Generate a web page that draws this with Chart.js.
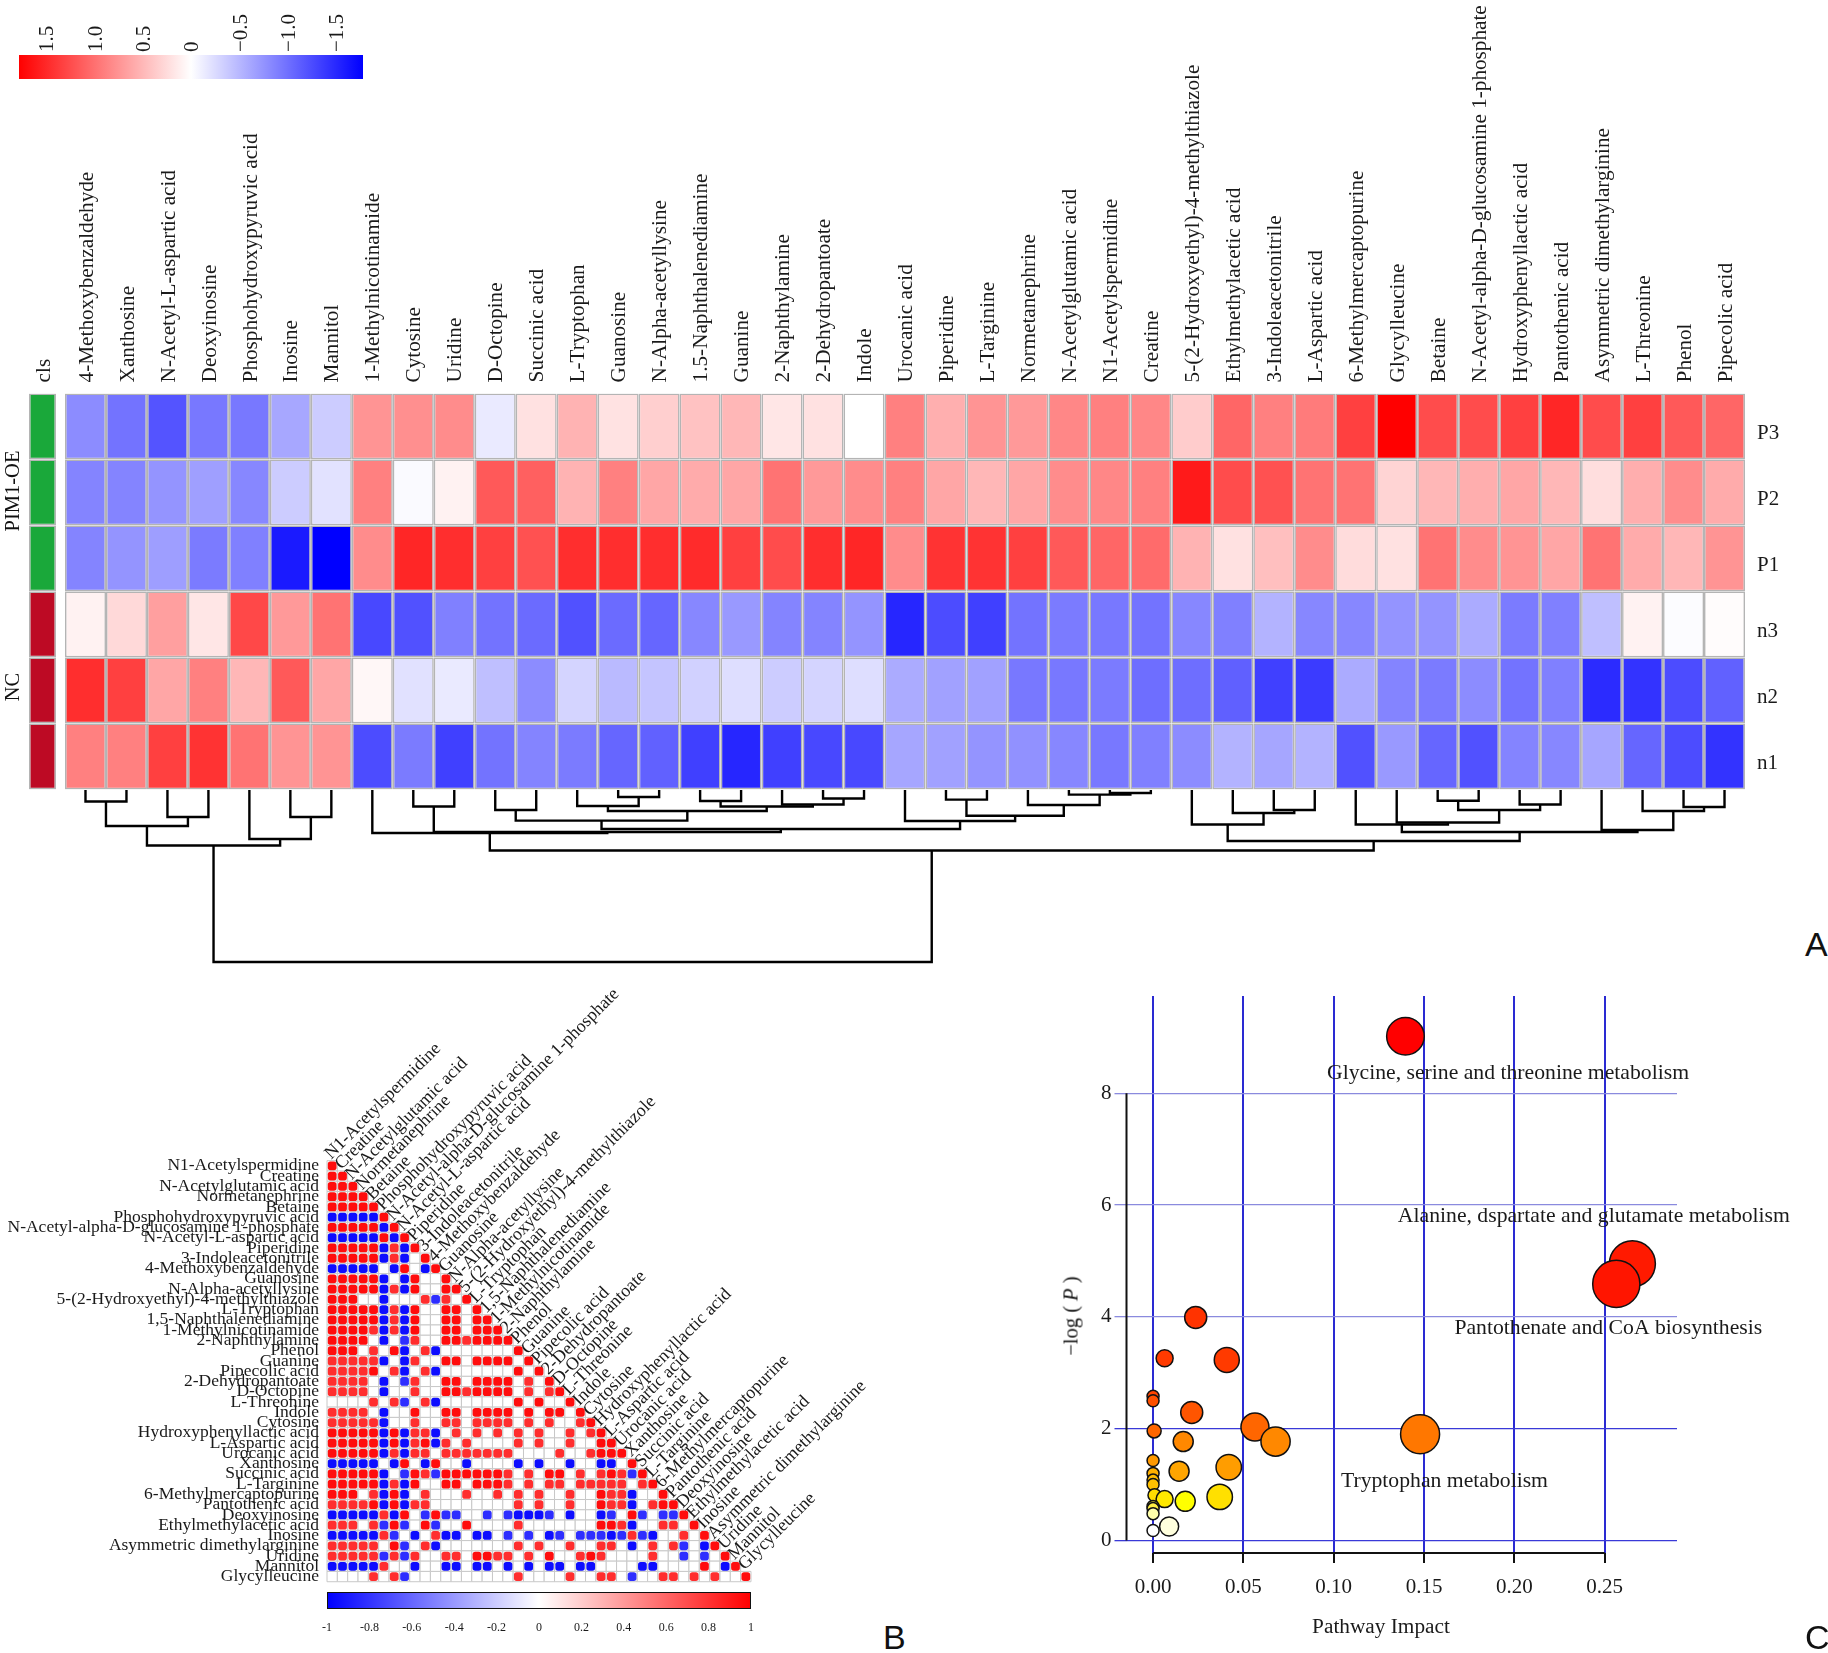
<!DOCTYPE html>
<html>
<head>
<meta charset="utf-8">
<script src="https://cdn.jsdelivr.net/npm/chart.js@4/dist/chart.umd.min.js"></script>
<style>
  html, body { margin: 0; padding: 0; background: #fff; }
  #page { position: relative; width: 1828px; height: 1653px; overflow: hidden; background: #fff; }
  #page canvas { position: absolute; }
  .panel { position: absolute; font: 34px "Liberation Sans", sans-serif; color: #111; line-height: 1; }
  .side { position: absolute; font: 20.5px "Liberation Serif", serif; color: #111; white-space: nowrap;
          transform: translate(-50%, -50%) rotate(-90deg); }
  .title { position: absolute; font: 21.3px "Liberation Serif", serif; color: #1a1a1a; white-space: nowrap;
           transform: translate(-50%, -50%); }
</style>
</head>
<body>
<div id="page">
  <canvas id="scale_a" style="left:0;top:0"></canvas>
  <canvas id="cls_a" style="left:20px;top:0"></canvas>
  <canvas id="heat_a" style="left:58px;top:0"></canvas>
  <canvas id="tree_a" style="left:60px;top:785px"></canvas>
  <canvas id="corr_b" style="left:0;top:990px"></canvas>
  <canvas id="scale_b" style="left:310px;top:1580px"></canvas>
  <canvas id="bubble_c" style="left:1040px;top:966px"></canvas>
  <div class="side" style="left:11.5px;top:491px">PIM1-OE</div>
  <div class="side" style="left:11.5px;top:687px">NC</div>
  <div class="side" style="left:1071px;top:1316px">−log ( <i>P</i> )</div>
  <div class="title" style="left:1381px;top:1626px">Pathway Impact</div>
  <div class="panel" style="left:1805px;top:927px">A</div>
  <div class="panel" style="left:883px;top:1620px">B</div>
  <div class="panel" style="left:1805px;top:1620px">C</div>
</div>
<script>
const heatCompounds = ["4-Methoxybenzaldehyde", "Xanthosine", "N-Acetyl-L-aspartic acid", "Deoxyinosine", "Phosphohydroxypyruvic acid", "Inosine", "Mannitol", "1-Methylnicotinamide", "Cytosine", "Uridine", "D-Octopine", "Succinic acid", "L-Tryptophan", "Guanosine", "N-Alpha-acetyllysine", "1.5-Naphthalenediamine", "Guanine", "2-Naphthylamine", "2-Dehydropantoate", "Indole", "Urocanic acid", "Piperidine", "L-Targinine", "Normetanephrine", "N-Acetylglutamic acid", "N1-Acetylspermidine", "Creatine", "5-(2-Hydroxyethyl)-4-methylthiazole", "Ethylmethylacetic acid", "3-Indoleacetonitrile", "L-Aspartic acid", "6-Methylmercaptopurine", "Glycylleucine", "Betaine", "N-Acetyl-alpha-D-glucosamine 1-phosphate", "Hydroxyphenyllactic acid", "Pantothenic acid", "Asymmetric dimethylarginine", "L-Threonine", "Phenol", "Pipecolic acid"];
const heatRows = ["P3", "P2", "P1", "n3", "n2", "n1"];
const clsColors = ["#1aa83a", "#1aa83a", "#1aa83a", "#bd0a24", "#bd0a24", "#bd0a24"];

const zP3 = [-.72, -.88, -1.07, -.85, -.85, -.55, -.32, .67, .7, .72, -.13, .19, .48, .18, .3, .38, .45, .16, .19, 0, .8, .5, .67, .64, .75, .8, .75, .32, .96, .8, .83, 1.2, 1.6, 1.12, 1.12, 1.2, 1.36, 1.12, 1.2, 1.04, .96];
const zP2 = [-.77, -.77, -.67, -.6, -.75, -.32, -.18, .8, -.03, .08, 1.04, 1, .48, .8, .56, .53, .56, .88, .64, .72, .8, .56, .45, .56, .72, .75, .8, 1.44, 1.12, 1.09, .88, .88, .27, .45, .51, .56, .45, .21, .51, .72, .53];
const zP1 = [-.77, -.67, -.61, -.83, -.8, -1.44, -1.6, .72, 1.36, 1.31, 1.2, 1.09, 1.31, 1.31, 1.31, 1.33, 1.2, 1.12, 1.31, 1.36, .72, 1.28, 1.28, 1.2, 1.04, .96, .93, .48, .19, .4, .72, .22, .19, .88, .72, .67, .56, .88, .53, .45, .67];
const zN3 = [.08, .24, .6, .16, 1.15, .64, .88, -1.15, -1.09, -.8, -.88, -.93, -1.09, -.93, -.96, -.75, -.64, -.77, -.77, -.67, -1.36, -1.12, -1.2, -.88, -.83, -.85, -.88, -.75, -.8, -.48, -.75, -.75, -.67, -.67, -.53, -.83, -.8, -.4, .08, -.02, .02];
const zN2 = [1.31, 1.2, .56, .8, .45, 1.04, .56, .05, -.19, -.13, -.4, -.72, -.27, -.43, -.37, -.29, -.21, -.32, -.27, -.21, -.53, -.59, -.59, -.85, -.85, -.83, -.91, -.91, -1, -1.2, -1.23, -.53, -.77, -.83, -.72, -.88, -.8, -1.33, -1.28, -1.12, -.99];
const zN1 = [.8, .8, 1.2, 1.28, .88, .67, .67, -1.12, -.83, -1.2, -.88, -.77, -.83, -.96, -.99, -1.2, -1.36, -1.2, -1.15, -1.15, -.56, -.59, -.67, -.69, -.75, -.85, -.8, -.72, -.48, -.56, -.48, -1.09, -.64, -.96, -1.09, -.77, -.75, -.56, -.96, -1.12, -1.28];
const heatValues = [zP3, zP2, zP1, zN3, zN2, zN1];

// dendrogram, same idea as hclust: negative = leaf column, positive = earlier merge
const mergeLeft = [-1, -3, 1, -6, -5, 3, -9, -11, -14, -13, -16, -19, -18, 11, 10, 8, -22, -26, -25, -24, 17, -21, 16, 7, -8, -30, -29, -28, -34, -36, 29, -33, -32, -40, -39, -38, 33, 28, 25, 6];
const mergeRight = [-2, -4, 2, -7, 4, 5, -10, -12, -15, 9, -17, -20, 12, 13, 14, 15, -23, -27, 18, 19, 20, 21, 22, 23, 24, -31, 26, 27, -35, -37, 30, 31, 32, -41, 34, 35, 36, 37, 38, 39];
const mergeHeight = [11.5, 27, 36, 27, 49, 55.5, 16.5, 20, 7, 16, 11, 8.5, 14.5, 16.5, 21, 30.6, 9.6, 3, 4.6, 15, 25.7, 31, 39, 42, 43, 20, 23, 34.5, 10.7, 14.5, 20, 32.5, 34.5, 17, 21, 40, 42, 51, 60.5, 172];

const corrNames = ["N1-Acetylspermidine", "Creatine", "N-Acetylglutamic acid", "Normetanephrine", "Betaine", "Phosphohydroxypyruvic acid", "N-Acetyl-alpha-D-glucosamine 1-phosphate", "N-Acetyl-L-aspartic acid", "Piperidine", "3-Indoleacetonitrile", "4-Methoxybenzaldehyde", "Guanosine", "N-Alpha-acetyllysine", "5-(2-Hydroxyethyl)-4-methylthiazole", "L-Tryptophan", "1,5-Naphthalenediamine", "1-Methylnicotinamide", "2-Naphthylamine", "Phenol", "Guanine", "Pipecolic acid", "2-Dehydropantoate", "D-Octopine", "L-Threonine", "Indole", "Cytosine", "Hydroxyphenyllactic acid", "L-Aspartic acid", "Urocanic acid", "Xanthosine", "Succinic acid", "L-Targinine", "6-Methylmercaptopurine", "Pantothenic acid", "Deoxyinosine", "Ethylmethylacetic acid", "Inosine", "Asymmetric dimethylarginine", "Uridine", "Mannitol", "Glycylleucine"];
// one string per row of the lower triangle: R/r positive, B/b negative, . not significant
const corrLevels = { R: 0.95, r: 0.82, B: -0.95, b: -0.82 };
const corrRows = [
  "R",
  "RR",
  "RRR",
  "RRRR",
  "RRRRR",
  "BBBBBR",
  "RRRRRBR",
  "BBBBBRBR",
  "RRRRRBrBR",
  "RRRRRBrB.R",
  "BBBBB.BR.BR",
  "RRRRRB.BR..R",
  "RRRRRBrBR..RR",
  "RRR..B...rbr.R",
  "RRRRRBrBR..RR.R",
  "RRRRRBrBR..RR.RR",
  "RRRRrBrBR..RR.RRR",
  "RRRR.B.br..RRrRRRR",
  "RRR.r.RB.rB.......R",
  "rrrrrB.Br..RR.RRRR.R",
  "rrrrR.rB.rB.......R.R",
  "rrrr.B.br..RR.RRRR.r.R",
  "rrrr.B..r..RRrRRRR.r.rR",
  "....r.rb.rB.......R.R..R",
  "rrrr.B..R..RR.RRRR.R.RR.R",
  "rrrrrB..r..rr.rrrr.r.r..rR",
  "RRRRRBRBrrB.r.r.r.r.r..r.rR",
  "RRRRRBRBrRBr.r....r.r..r..RR",
  "RRRRRBrBrr.rrrrrrr....r..rRRR",
  "BBBBB.BR.BR..B....B.B..B..BB.R",
  "RRRRRB.bRrbRRRRRRr.r.RR.r.rRrbR",
  "RRRRRBrBR..RR.RRRr.r.rr.rrrrr.rR",
  "RRR.rBRB.r...r..r.r.r..r..RrrB..R",
  "rrrrRBRBrr........r.r..r..RrrB.rRR",
  "BBBBBrBR.bRbb..b.bBBBb.B..Bb.Rb.bbR",
  "rrr.rbRb.Rb..R....r.......RRrB..rr.R",
  "BBBBBrb.B.rBB.BB.b.b.Bb.bbbBbrbB..r.R",
  "rrrrr.Rb.rB.......r.r..r..rr.B.r.rb.BR",
  "rrrrrbrbr..rr.RRrr.r.R..rRr....r..b.b.R",
  "BBBBBr..B..BB.BB.B.B.BB.BB....BB....R.BR",
  "....r.rb..........r....r..rr.b..rr.r.r..R",
];

const pathwayImpact = [.1397, .2653, .2564, .0236, .0064, .0408, 0, 0, .0214, .0006, .0564, .0678, .1478, .0167, 0, .0144, .0419, 0, 0, 0, .0008, .0064, .0178, .0369, 0, 0, 0, .0089, 0];
const pathwayLogP = [9.02, 4.95, 4.59, 3.99, 3.26, 3.23, 2.58, 2.5, 2.29, 1.96, 2.03, 1.77, 1.9, 1.77, 1.43, 1.24, 1.31, 1.2, 1.08, 1, .81, .74, .7, .78, .61, .57, .48, .25, .18];
const pathwayRadius = [18.8, 23, 23.6, 11, 8.5, 12.5, 6, 6, 11, 7, 14, 14.6, 19.5, 10, 6, 10, 12.7, 6, 6, 6, 6.5, 8.5, 10, 12.7, 6, 6, 6, 9.5, 6];
const pathwayColors = ["#ff0000", "#ff1a00", "#ff1500", "#ff3300", "#ff3a00", "#ff3a00", "#ff4400", "#ff5000", "#ff5500", "#ff6600", "#ff6600", "#ff8800", "#ff7700", "#ff8800", "#ff9900", "#ffa500", "#ff9d00", "#ffb000", "#ffbb00", "#ffc000", "#ffdd00", "#ffe800", "#ffff00", "#ffe000", "#ffee33", "#ffee44", "#ffffaa", "#ffffdd", "#ffffff"];
const pathwayNotes = ["Glycine, serine and threonine metabolism", "Alanine, dspartate and glutamate metabolism", "Pantothenate and CoA biosynthesis", "Tryptophan metabolism"];
const pathwayNoteX = [.0963, .1355, .1668, .104];
const pathwayNoteY = [8.35, 5.8, 3.79, 1.05];

const impactTicks = [0, .05, .1, .15, .2, .25];
const logPTicks = [0, 2, 4, 6, 8];
const zTicks = [1.5, 1, .5, 0, -.5, -1, -1.5];
const corrTicks = [-1, -.8, -.6, -.4, -.2, 0, .2, .4, .6, .8, 1];

const SERIF = '"Liberation Serif", serif';
const GRAY = "#b4b4b4";
const Z_MAX = 1.6;
const ROT_LABEL_SHIFT = 27;

Chart.defaults.animation = false;
Chart.defaults.font.family = SERIF;
Chart.defaults.color = "#1a1a1a";
Chart.defaults.plugins.legend.display = false;
Chart.defaults.plugins.tooltip.enabled = false;

const sizeCanvas = (id, w, h) => {
  const el = document.getElementById(id);
  el.width = w;
  el.height = h;
  el.style.width = w + "px";
  el.style.height = h + "px";
  return el;
};

const zColor = (v) => {
  const c = Math.round(255 * (1 - Math.min(Math.abs(v) / Z_MAX, 1)));
  return v >= 0 ? `rgb(255,${c},${c})` : `rgb(${c},${c},255)`;
};

const fixedTicks = (values) => (scale) => {
  scale.ticks = values.map((value) => ({ value }));
};

// pins an axis to a set size and stops it pushing the chart area in for its labels
const pinAxis = (size) => (scale) => {
  if (scale.isHorizontal()) scale.height = size;
  else scale.width = size;
  scale.paddingLeft = scale.paddingRight = scale.paddingTop = scale.paddingBottom = 0;
};

const rowDatasets = (labels, colorAt) =>
  heatRows
    .map((row, r) => ({
      label: row,
      data: labels.map(() => 1),
      backgroundColor: labels.map((_, c) => colorAt(r, c)),
      borderColor: GRAY,
      borderWidth: 1.6,
      borderSkipped: false,
      inflateAmount: 0,
      categoryPercentage: 1,
      barPercentage: 1,
    }))
    .reverse();

const topLabelAxis = () => ({
  position: "top",
  stacked: true,
  grid: { display: false, drawTicks: false },
  border: { display: false },
  ticks: { autoSkip: false, minRotation: 90, maxRotation: 90, padding: 11, labelOffset: ROT_LABEL_SHIFT, font: { size: 21.2 } },
  afterFit: pinAxis(393.4),
});

// heatmap A
new Chart(sizeCanvas("heat_a", 1770, 793), {
  type: "bar",
  data: { labels: heatCompounds, datasets: rowDatasets(heatCompounds, (r, c) => zColor(heatValues[r][c])) },
  options: {
    responsive: false,
    layout: { padding: { left: 7, bottom: 3.6 } },
    scales: {
      x: topLabelAxis(),
      y: { display: false, stacked: true, min: 0, max: 6 },
      rows: {
        axis: "y",
        type: "category",
        labels: heatRows,
        position: "right",
        offset: true,
        grid: { display: false, drawTicks: false },
        border: { display: false },
        ticks: { padding: 12, labelOffset: 7, font: { size: 21 } },
        afterFit: pinAxis(83),
      },
    },
  },
});

// class strip left of the heatmap
new Chart(sizeCanvas("cls_a", 40, 793), {
  type: "bar",
  data: { labels: ["cls"], datasets: rowDatasets(["cls"], (r) => clsColors[r]) },
  options: {
    responsive: false,
    layout: { padding: { left: 9, right: 4, bottom: 3.6 } },
    scales: {
      x: topLabelAxis(),
      y: { display: false, stacked: true, min: 0, max: 6 },
    },
  },
});

// dendrogram under the heatmap
const nodeX = [];
const childX = (id) => (id < 0 ? -id - 0.5 : nodeX[id - 1]);
const childH = (id) => (id < 0 ? 0 : mergeHeight[id - 1]);
const treeDatasets = mergeHeight.map((h, i) => {
  const xl = childX(mergeLeft[i]);
  const xr = childX(mergeRight[i]);
  nodeX.push((xl + xr) / 2);
  return {
    data: [
      { x: xl, y: childH(mergeLeft[i]) },
      { x: xl, y: h },
      { x: xr, y: h },
      { x: xr, y: childH(mergeRight[i]) },
    ],
    showLine: true,
    borderColor: "#000",
    borderWidth: 2.4,
    pointRadius: 0,
    clip: false,
  };
});

new Chart(sizeCanvas("tree_a", 1700, 190), {
  type: "scatter",
  data: { datasets: treeDatasets },
  options: {
    responsive: false,
    layout: { padding: { left: 5, right: 15, top: 5, bottom: 13 } },
    scales: {
      x: { display: false, min: 0, max: heatCompounds.length },
      y: { display: false, min: 0, max: 172, reverse: true },
    },
  },
});

const gradientFill = (stops) => (context) => {
  const area = context.chart.chartArea;
  if (!area) return "#fff";
  const g = context.chart.ctx.createLinearGradient(area.left, 0, area.right, 0);
  stops.forEach((color, i) => g.addColorStop(i / (stops.length - 1), color));
  return g;
};

// colour key for the heatmap
new Chart(sizeCanvas("scale_a", 380, 90), {
  type: "bar",
  data: {
    labels: [""],
    datasets: [{
      data: [[-1.78, 1.78]],
      backgroundColor: gradientFill(["#ff0000", "#ffffff", "#0000ff"]),
      categoryPercentage: 1,
      barPercentage: 1,
      inflateAmount: 0,
    }],
  },
  options: {
    indexAxis: "y",
    responsive: false,
    layout: { padding: { left: 19, right: 17, bottom: 11 } },
    scales: {
      x: {
        position: "top",
        reverse: true,
        min: -1.78,
        max: 1.78,
        grid: { display: false, drawTicks: false },
        border: { display: false },
        afterBuildTicks: fixedTicks(zTicks),
        ticks: {
          autoSkip: false,
          minRotation: 90,
          maxRotation: 90,
          padding: 3,
          labelOffset: ROT_LABEL_SHIFT,
          font: { size: 21 },
          callback: (v) => (v === 0 ? "0" : (v < 0 ? "−" : "") + Math.abs(v).toFixed(1)),
        },
        afterFit: pinAxis(55),
      },
      y: { display: false },
    },
  },
});

// correlation triangle B
const cellData = [];
const dotData = [];
const dotColors = [];
corrRows.forEach((row, r) => {
  [...row].forEach((ch, c) => {
    cellData.push({ x: corrNames[c], y: corrNames[r] });
    if (ch === ".") return;
    dotData.push({ x: corrNames[c], y: corrNames[r] });
    const v = corrLevels[ch];
    const k = Math.round(255 * (1 - Math.abs(v)));
    dotColors.push(v > 0 ? `rgb(255,${k},${k})` : `rgb(${k},${k},255)`);
  });
});

const diagonalLabels = {
  id: "diagonalLabels",
  afterDatasetsDraw(chart) {
    const { ctx, scales } = chart;
    const cell = scales.y.getPixelForValue(1) - scales.y.getPixelForValue(0);
    ctx.save();
    ctx.font = `18px ${SERIF}`;
    ctx.fillStyle = "#1a1a1a";
    ctx.textBaseline = "alphabetic";
    ctx.textAlign = "left";
    corrNames.forEach((name, i) => {
      ctx.save();
      ctx.translate(scales.x.getPixelForValue(i) - 1, scales.y.getPixelForValue(i) - cell / 2 - 1);
      ctx.rotate(-Math.PI / 4);
      ctx.fillText(name, 0, 0);
      ctx.restore();
    });
    ctx.restore();
  },
};

new Chart(sizeCanvas("corr_b", 900, 600), {
  type: "scatter",
  data: {
    datasets: [
      {
        data: dotData,
        pointStyle: "rectRounded",
        pointRadius: 5.1,
        pointBackgroundColor: dotColors,
        pointBorderWidth: 0,
        clip: false,
      },
      {
        data: cellData,
        pointStyle: "rect",
        pointRadius: 7.3,
        pointBackgroundColor: "#fff",
        pointBorderColor: "#c8c8c8",
        pointBorderWidth: 1,
        clip: false,
      },
    ],
  },
  plugins: [diagonalLabels],
  options: {
    responsive: false,
    layout: { padding: { top: 170.7, right: 149, bottom: 7 } },
    scales: {
      x: { type: "category", labels: corrNames, offset: true, display: false },
      y: {
        type: "category",
        labels: corrNames,
        offset: true,
        grid: { display: false, drawTicks: false },
        border: { display: false },
        ticks: { autoSkip: false, padding: 8, font: { size: 17.5 } },
        afterFit: pinAxis(327),
      },
    },
  },
});

// colour key for the correlations
new Chart(sizeCanvas("scale_b", 460, 64), {
  type: "bar",
  data: {
    labels: [""],
    datasets: [{
      data: [[-1, 1]],
      backgroundColor: gradientFill(["#0000ff", "#ffffff", "#ff0000"]),
      borderColor: "#111",
      borderWidth: 1,
      borderSkipped: false,
      categoryPercentage: 1,
      barPercentage: 1,
      inflateAmount: 0,
    }],
  },
  options: {
    indexAxis: "y",
    responsive: false,
    layout: { padding: { left: 17, right: 19, top: 12 } },
    scales: {
      x: {
        min: -1,
        max: 1,
        grid: { display: false, drawTicks: false },
        border: { display: false },
        afterBuildTicks: fixedTicks(corrTicks),
        ticks: { autoSkip: false, maxRotation: 0, padding: 12, font: { size: 12 }, callback: (v) => String(v) },
        afterFit: pinAxis(35),
      },
      y: { display: false },
    },
  },
});

// pathway bubbles C
const bubbleExtras = {
  id: "bubbleExtras",
  beforeDatasetsDraw(chart) {
    const { ctx, scales, chartArea } = chart;
    ctx.save();
    ctx.strokeStyle = "#111";
    ctx.lineWidth = 2;
    ctx.beginPath();
    ctx.moveTo(chartArea.left, scales.y.getPixelForValue(8));
    ctx.lineTo(chartArea.left, scales.y.getPixelForValue(0));
    ctx.moveTo(scales.x.getPixelForValue(0), chartArea.bottom);
    ctx.lineTo(scales.x.getPixelForValue(.25), chartArea.bottom);
    ctx.stroke();
    ctx.restore();
  },
  afterDatasetsDraw(chart) {
    const { ctx, scales } = chart;
    ctx.save();
    ctx.font = `21.7px ${SERIF}`;
    ctx.fillStyle = "#1a1a1a";
    ctx.textAlign = "left";
    ctx.textBaseline = "middle";
    pathwayNotes.forEach((note, i) => {
      ctx.fillText(note, scales.x.getPixelForValue(pathwayNoteX[i]), scales.y.getPixelForValue(pathwayNoteY[i]));
    });
    ctx.restore();
  },
};

new Chart(sizeCanvas("bubble_c", 788, 687), {
  type: "bubble",
  data: {
    datasets: [{
      data: pathwayImpact.map((x, i) => ({ x, y: pathwayLogP[i], r: pathwayRadius[i] })),
      backgroundColor: pathwayColors,
      borderColor: "#111",
      borderWidth: 1.5,
      clip: false,
    }],
  },
  plugins: [bubbleExtras],
  options: {
    responsive: false,
    layout: { padding: { top: 30, right: 151 } },
    scales: {
      x: {
        min: -0.0147,
        max: 0.29,
        border: { display: false },
        grid: { color: "#2a2ad2", lineWidth: 2, tickColor: "#111", tickLength: 10 },
        afterBuildTicks: fixedTicks(impactTicks),
        ticks: { autoSkip: false, maxRotation: 0, padding: 12, font: { size: 21 }, callback: (v) => v.toFixed(2) },
        afterFit: pinAxis(100),
      },
      y: {
        min: -0.224,
        max: 9.74,
        border: { display: false },
        grid: {
          color: (ctx) => (ctx.tick && ctx.tick.value >= 4 ? "#8a8ade" : "#3a3ad8"),
          lineWidth: 1.3,
          tickLength: 12,
        },
        afterBuildTicks: fixedTicks(logPTicks),
        ticks: { autoSkip: false, padding: 3, font: { size: 21 } },
        afterFit: pinAxis(86.5),
      },
    },
  },
});
</script>
</body>
</html>
